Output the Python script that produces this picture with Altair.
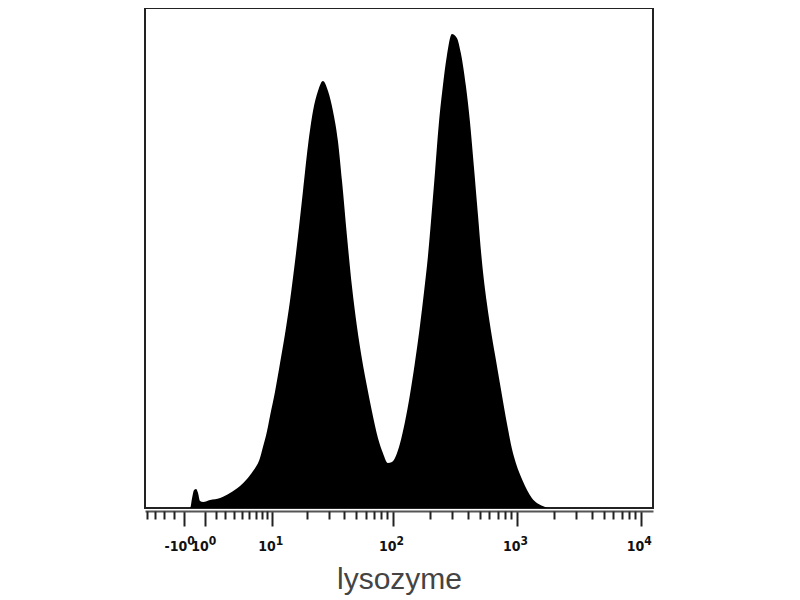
import altair as alt
import numpy as np
import pandas as pd

# Histogram: bin position in asinh display units (decades), event counts
bin_pos = [-0.40, -0.036, -0.020, -0.004, 0.012, 0.028, 0.044, 0.069, 0.125, 0.206,
           0.286, 0.367, 0.423, 0.472, 0.528, 0.552, 0.585, 0.609, 0.649, 0.690,
           0.730, 0.770, 0.819, 0.875, 0.915, 0.956, 0.996, 1.036, 1.077, 1.117,
           1.157, 1.190, 1.230, 1.270, 1.310, 1.351, 1.391, 1.431, 1.480, 1.520,
           1.560, 1.593, 1.657, 1.698, 1.738, 1.778, 1.819, 1.851, 1.883, 1.907,
           1.940, 1.972, 2.004, 2.036, 2.077, 2.117, 2.149, 2.190, 2.222, 2.254,
           2.286, 2.319, 2.359, 2.399, 2.431, 2.464, 2.528, 2.560, 2.593, 2.649,
           2.722, 2.810, 2.867, 3.70]
counts = [0, 0, 20, 36, 38, 30, 14, 12, 16, 20,
          30, 44, 58, 74, 100, 122, 154, 184, 232, 290,
          348, 414, 510, 634, 724, 794, 834, 854, 834, 794,
          734, 654, 544, 444, 364, 298, 244, 194, 140, 110,
          90, 92, 128, 172, 226, 290, 364, 430, 502, 570,
          670, 770, 844, 904, 948, 940, 910, 844, 774, 684,
          590, 494, 410, 344, 298, 250, 160, 120, 90, 54,
          20, 4, 0, 0]

# Axis ticks (fluorescence intensity)
major_vals = [-1, 1, 10, 100, 1000, 10000]
major_base = ["-10", "10", "10", "10", "10", "10"]
major_exp = ["0", "0", "1", "2", "3", "4"]
minor_vals = [-5, -4, -3, -2] + [k * 10 ** d for d in range(0, 4) for k in range(2, 10)]

COFACTOR = 5.0


def to_display(v):
    return (np.arcsinh(np.asarray(v, dtype=float) / COFACTOR) / np.log(10)).tolist()


major_u = to_display(major_vals)
minor_u = to_display(minor_vals)


def label_expr(labels):
    expr = "''"
    for u, lab in reversed(list(zip(major_u, labels))):
        expr = f"abs(datum.value - {u:.6f}) < 0.01 ? '{lab}' : ({expr})"
    return expr


df = pd.DataFrame({"pos": bin_pos, "count": counts})
xscale = alt.Scale(domain=[-0.4, 3.7], nice=False, zero=False)
yscale = alt.Scale(domain=[0, 1000], nice=False)
LABEL_FONT = "DejaVu Sans Condensed"

area = alt.Chart(df).mark_area(color="black", interpolate="monotone", clip=True).encode(
    x=alt.X("pos:Q", scale=xscale,
            axis=alt.Axis(values=major_u, labelExpr=label_expr(major_base), orient="bottom",
                          tickSize=15, tickWidth=2, tickColor="#222",
                          domain=True, domainColor="#555", domainWidth=2, offset=3,
                          labelFont=LABEL_FONT, labelFontWeight="bold", labelFontSize=14,
                          labelColor="#111", labelPadding=13, labelOverlap=False,
                          labelFlush=False, labelAlign="right", labelOffset=3, grid=False,
                          title="lysozyme", titleFont="Liberation Sans", titleFontSize=30,
                          titleFontWeight="normal", titleColor="#444",
                          titleBaseline="alphabetic", titleY=77)),
    y=alt.Y("count:Q", scale=yscale, axis=None),
)

minor = alt.Chart(pd.DataFrame({"pos": minor_u})).mark_point(opacity=0).encode(
    x=alt.X("pos:Q", scale=xscale,
            axis=alt.Axis(values=minor_u, labels=False, orient="bottom",
                          tickSize=8, tickWidth=2, tickColor="#222",
                          domain=False, offset=3, grid=False, title=None)),
)

sup = alt.Chart(pd.DataFrame({"pos": major_u})).mark_point(opacity=0).encode(
    x=alt.X("pos:Q", scale=xscale,
            axis=alt.Axis(values=major_u, labelExpr=label_expr(major_exp), orient="bottom",
                          ticks=False, tickSize=15, domain=False, offset=3, grid=False,
                          labelFont=LABEL_FONT, labelFontWeight="bold", labelFontSize=12,
                          labelColor="#111", labelPadding=24, labelOverlap=False,
                          labelFlush=False, labelAlign="left", labelOffset=3, title=None)),
)

chart = alt.layer(area, minor, sup).resolve_axis(x="independent").properties(
    width=508, height=500,
    autosize=alt.AutoSizeParams(type="none"),
    padding={"left": 137, "top": 0, "right": 20, "bottom": 90},
).configure_view(stroke="#222", strokeWidth=2)

chart.save("out.html", embed_options={"renderer": "svg", "actions": False})
